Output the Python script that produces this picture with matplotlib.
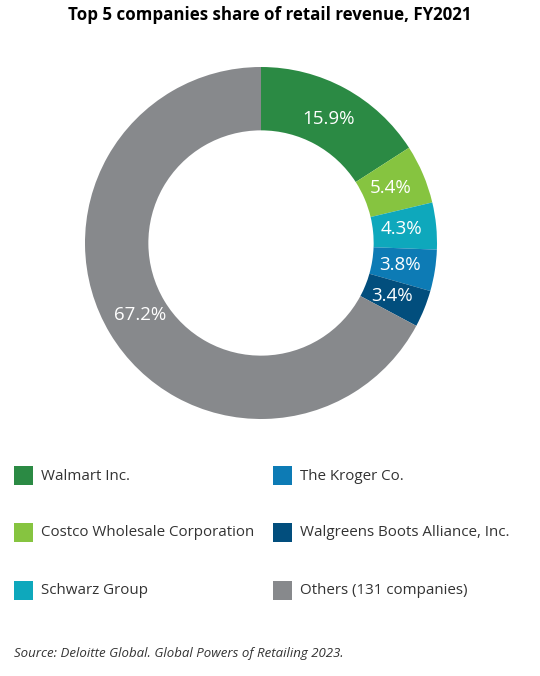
import matplotlib
matplotlib.use('Agg')
import matplotlib.pyplot as plt
from matplotlib.patches import Rectangle

plt.rcParams['font.family'] = ['Open Sans', 'DejaVu Sans']

# Data
companies = ['Walmart Inc.', 'Costco Wholesale Corporation', 'Schwarz Group',
             'The Kroger Co.', 'Walgreens Boots Alliance, Inc.', 'Others (131 companies)']
shares = [15.9, 5.4, 4.3, 3.8, 3.4, 67.2]
colors = ['#2b8a44', '#86c440', '#0ea8bc', '#0d7bb5', '#024e7d', '#87898c']

W, H = 540, 676
fig = plt.figure(figsize=(W / 100, H / 100), dpi=100)

# donut centre (261, 243) px, outer radius 176 px
cx, cy, r = 261, 243, 176
ax = fig.add_axes([(cx - r) / W, (H - cy - r) / H, 2 * r / W, 2 * r / H])
wedges, texts, autotexts = ax.pie(
    shares, colors=colors, startangle=90, counterclock=False,
    radius=1, wedgeprops=dict(width=0.36, edgecolor='none'),
    autopct='%1.1f%%', pctdistance=0.8,
    textprops=dict(color='white', fontsize=13.5))
ax.set_xlim(-1, 1)
ax.set_ylim(-1, 1)
ax.set_aspect('equal')
ax.axis('off')

fig.text(270 / W, 1 - 15 / H, 'Top 5 companies share of retail revenue, FY2021',
         ha='center', va='center', fontsize=12.2, fontweight='bold', color='#000000')

# legend, two columns filled top to bottom
col_x = [14, 273]
row_y = [475, 532, 590]
sq = 19
for i, (name, col) in enumerate(zip(companies, colors)):
    x = col_x[i // 3]
    y = row_y[i % 3]
    fig.add_artist(Rectangle((x / W, (H - y - sq / 2) / H), sq / W, sq / H,
                             transform=fig.transFigure, facecolor=col, edgecolor='none'))
    fig.text((x + 27) / W, 1 - (y + 1) / H, name, ha='left', va='center',
             fontsize=10.9, color='#333333')

fig.text(14 / W, 1 - 653 / H, 'Source: Deloitte Global. Global Powers of Retailing 2023.',
         ha='left', va='center', fontsize=9.5, style='italic', color='#333333')

fig.savefig('out.png', dpi=100)
